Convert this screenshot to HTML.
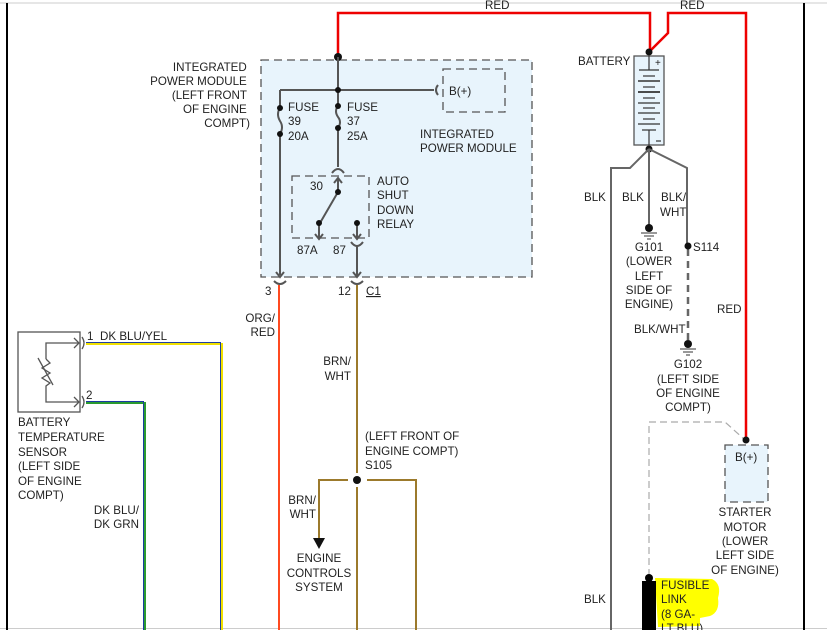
<!DOCTYPE html>
<html><head><meta charset="utf-8"><style>
html,body{margin:0;padding:0;background:#fff;}
svg{display:block;font-family:"Liberation Sans",sans-serif;font-size:11.6px;}
text{fill:#222;}
</style></head><body>
<svg width="827" height="630" viewBox="0 0 827 630" xmlns="http://www.w3.org/2000/svg">
<line x1="0" y1="3" x2="827" y2="3" stroke="#ccc" stroke-width="1"/>
<line x1="0" y1="628.5" x2="827" y2="628.5" stroke="#ccc" stroke-width="1"/>
<line x1="7" y1="3" x2="7" y2="630" stroke="#000" stroke-width="2"/>
<line x1="804" y1="3" x2="804" y2="630" stroke="#000" stroke-width="2"/>

<rect x="261" y="60" width="271" height="217" fill="#e8f4fc" stroke="#555" stroke-width="1.3" stroke-dasharray="8,5"/>
<rect x="443" y="69" width="62" height="43" fill="#e8f4fc" stroke="#555" stroke-width="1.3" stroke-dasharray="8,5"/>
<text x="449" y="95">B(+)</text>
<text x="420" y="138">INTEGRATED</text>
<text x="420" y="152">POWER MODULE</text>

<text text-anchor="end">
<tspan x="250" y="71">INTEGRATED</tspan>
<tspan x="250" y="85">POWER MODULE</tspan>
<tspan x="250" y="99">(LEFT FRONT</tspan>
<tspan x="250" y="113">OF ENGINE</tspan>
<tspan x="250" y="127">COMPT)</tspan>
</text>

<polyline points="338,57 338,13 650,13 650,52" fill="none" stroke="#e00" stroke-width="2.5"/>
<polyline points="649,52 668,33 668,13 746,13 746,440" fill="none" stroke="#e00" stroke-width="2.5"/>
<text x="485" y="9">RED</text>
<text x="680" y="9">RED</text>
<text x="717" y="313">RED</text>
<circle cx="338" cy="57" r="4" fill="#111"/>

<g stroke="#555" stroke-width="2" fill="none">
<line x1="338" y1="57" x2="338" y2="106"/>
<line x1="280" y1="90" x2="434" y2="90"/>
<path d="M438,85 q-4,5 0,10"/>
<line x1="280" y1="90" x2="280" y2="108"/>
<path d="M280,108 q-4,6 0,13 q4,6 0,13"/>
<path d="M338,106 q-4,5 0,11 q4,5 0,11"/>
<line x1="280" y1="134" x2="280" y2="275"/>
<line x1="338" y1="128" x2="338" y2="167"/>
<path d="M332,173 q6,-8 12,0"/>
<line x1="338" y1="178" x2="338" y2="192"/>
<path d="M334,183 l4,-5 l4,5"/>
<line x1="338" y1="192" x2="320" y2="223"/>
<line x1="319" y1="223" x2="319" y2="238"/>
<path d="M315,234 l4,5 l4,-5"/>
<line x1="357" y1="223" x2="357" y2="238"/>
<path d="M353,234 l4,5 l4,-5"/>
<path d="M351,242 q6,8 12,0"/>
<line x1="357" y1="246" x2="357" y2="276"/>
<path d="M353,272 l4,5 l4,-5"/>
<path d="M276,272 l4,5 l4,-5"/>
<path d="M274,281 q6,6 12,0"/>
<path d="M351,281 q6,6 12,0"/>
</g>
<rect x="292" y="176" width="77" height="62" fill="none" stroke="#555" stroke-width="1.3" stroke-dasharray="8,5"/>
<g fill="#111">
<circle cx="338" cy="90" r="3"/>
<circle cx="280" cy="108" r="3"/><circle cx="280" cy="134" r="3"/>
<circle cx="338" cy="106" r="3"/><circle cx="338" cy="128" r="3"/>
<circle cx="338" cy="192" r="3"/><circle cx="319" cy="223" r="3"/><circle cx="357" cy="223" r="3"/>
</g>
<text><tspan x="288" y="111">FUSE</tspan><tspan x="288" y="125">39</tspan><tspan x="288" y="140">20A</tspan></text>
<text><tspan x="347" y="111">FUSE</tspan><tspan x="347" y="125">37</tspan><tspan x="347" y="140">25A</tspan></text>
<text x="310" y="190">30</text>
<text><tspan x="377" y="185">AUTO</tspan><tspan x="377" y="199">SHUT</tspan><tspan x="377" y="214">DOWN</tspan><tspan x="377" y="228">RELAY</tspan></text>
<text x="297" y="254">87A</text>
<text x="333" y="254">87</text>
<text x="265" y="295">3</text>
<text x="338" y="295">12</text>
<text x="366" y="295" text-decoration="underline">C1</text>

<line x1="279" y1="285" x2="279" y2="630" stroke="#ff4a20" stroke-width="2"/>
<line x1="357" y1="285" x2="357" y2="473" stroke="#9c7a2c" stroke-width="2"/>
<line x1="357" y1="487" x2="357" y2="630" stroke="#9c7a2c" stroke-width="2"/>
<polyline points="348,480 319,480 319,538" fill="none" stroke="#9c7a2c" stroke-width="2"/>
<polygon points="313,538 325,538 319,549" fill="#111"/>
<polyline points="367,480 416,480 416,630" fill="none" stroke="#9c7a2c" stroke-width="2"/>
<circle cx="357" cy="480" r="4" fill="#111"/>
<text text-anchor="end"><tspan x="275" y="322">ORG/</tspan><tspan x="275" y="336">RED</tspan></text>
<text text-anchor="end"><tspan x="351" y="365">BRN/</tspan><tspan x="351" y="380">WHT</tspan></text>
<text><tspan x="365" y="440">(LEFT FRONT OF</tspan><tspan x="365" y="455">ENGINE COMPT)</tspan><tspan x="365" y="469">S105</tspan></text>
<text text-anchor="end"><tspan x="316" y="504">BRN/</tspan><tspan x="316" y="518">WHT</tspan></text>
<text text-anchor="middle"><tspan x="319" y="562">ENGINE</tspan><tspan x="319" y="577">CONTROLS</tspan><tspan x="319" y="591">SYSTEM</tspan></text>

<rect x="18" y="332" width="62" height="80" fill="#fff" stroke="#555" stroke-width="1.3"/>
<g stroke="#555" stroke-width="1.3" fill="none">
<polyline points="79,343 46,343 46,359"/>
<polyline points="46,359 50,363 42,368 50,373 42,378 50,383 46,386 46,402 79,402"/>
<line x1="38" y1="358" x2="53" y2="385"/>
<path d="M74,338 l5,5 l-5,5"/><path d="M74,397 l5,5 l-5,5"/>
<path d="M82,337 q4,6 0,12"/><path d="M82,396 q4,6 0,12"/>
</g>
<polyline points="86,344 222,344 222,630" fill="none" stroke="#f0e000" stroke-width="2"/>
<polyline points="86,342.5 220.5,342.5 220.5,630" fill="none" stroke="#2040a0" stroke-width="1"/>
<polyline points="86,403 145,403 145,630" fill="none" stroke="#2a9a30" stroke-width="2"/>
<polyline points="86,401.5 143.5,401.5 143.5,630" fill="none" stroke="#1a3aa0" stroke-width="1"/>
<text x="87" y="340">1</text><text x="100" y="340">DK BLU/YEL</text>
<text x="86" y="399">2</text>
<text><tspan x="18" y="426">BATTERY</tspan><tspan x="18" y="441">TEMPERATURE</tspan><tspan x="18" y="456">SENSOR</tspan><tspan x="18" y="470">(LEFT SIDE</tspan><tspan x="18" y="485">OF ENGINE</tspan><tspan x="18" y="499">COMPT)</tspan></text>
<text text-anchor="end"><tspan x="139" y="514">DK BLU/</tspan><tspan x="139" y="528">DK GRN</tspan></text>

<rect x="634" y="56" width="30" height="89" fill="#e8f4fc" stroke="#555" stroke-width="1.3"/>
<g stroke="#333" stroke-width="1.2">
<line x1="649" y1="56" x2="649" y2="70"/>
<line x1="639" y1="70" x2="659" y2="70"/>
<line x1="643" y1="76" x2="655" y2="76"/>
<line x1="638" y1="81" x2="660" y2="81" stroke-width="1.5"/>
<line x1="643" y1="87" x2="655" y2="87"/>
<line x1="638" y1="92" x2="660" y2="92" stroke-width="1.8"/>
<line x1="643" y1="98" x2="655" y2="98"/>
<line x1="638" y1="103" x2="660" y2="103"/>
<line x1="643" y1="108" x2="655" y2="108"/>
<line x1="638" y1="113" x2="660" y2="113"/>
<line x1="643" y1="119" x2="655" y2="119"/>
<line x1="638" y1="124" x2="660" y2="124"/>
<line x1="642" y1="130" x2="656" y2="130"/>
<line x1="649" y1="130" x2="649" y2="145"/>
<line x1="656" y1="141" x2="661" y2="141"/>
</g>
<text x="655" y="66" font-size="10">+</text>
<circle cx="649" cy="52" r="3.5" fill="#111"/>
<circle cx="649" cy="149" r="3.5" fill="#111"/>
<text x="578" y="65">BATTERY</text>
<g stroke="#666" stroke-width="2" fill="none">
<polyline points="649,149 630,168 611,168 611,630"/>
<line x1="649" y1="149" x2="649" y2="226"/>
<polyline points="649,149 687,168 687,245"/>
<line x1="688" y1="249" x2="688" y2="342" stroke-dasharray="7,5" stroke-width="2.5"/>
</g>
<circle cx="649" cy="228" r="4" fill="#111"/>
<g stroke="#333" stroke-width="1"><line x1="641" y1="233" x2="657" y2="233"/><line x1="644" y1="236" x2="654" y2="236"/><line x1="647" y1="239" x2="651" y2="239"/></g>
<circle cx="688" cy="246" r="3.5" fill="#111"/>
<circle cx="688" cy="344" r="4" fill="#111"/>
<g stroke="#333" stroke-width="1"><line x1="680" y1="349" x2="696" y2="349"/><line x1="683" y1="352" x2="693" y2="352"/><line x1="686" y1="355" x2="690" y2="355"/></g>
<text x="584" y="201">BLK</text><text x="622" y="201">BLK</text>
<text><tspan x="661" y="201">BLK/</tspan><tspan x="660" y="216">WHT</tspan></text>
<text text-anchor="middle"><tspan x="649" y="251">G101</tspan><tspan x="649" y="265">(LOWER</tspan><tspan x="649" y="280">LEFT</tspan><tspan x="649" y="294">SIDE OF</tspan><tspan x="649" y="308">ENGINE)</tspan></text>
<text x="693" y="251">S114</text>
<text x="634" y="333">BLK/WHT</text>
<text text-anchor="middle"><tspan x="688" y="368">G102</tspan><tspan x="688" y="383">(LEFT SIDE</tspan><tspan x="688" y="397">OF ENGINE</tspan><tspan x="688" y="411">COMPT)</tspan></text>

<polyline points="649,576 649,422 725,422 745,440" fill="none" stroke="#aaa" stroke-width="1.2" stroke-dasharray="7,4"/>
<rect x="725" y="445" width="43" height="57" fill="#e8f4fc" stroke="#555" stroke-width="1.3" stroke-dasharray="8,5"/>
<circle cx="746" cy="440" r="3.5" fill="#111"/>
<text x="735" y="461">B(+)</text>
<text text-anchor="middle"><tspan x="745" y="516">STARTER</tspan><tspan x="745" y="531">MOTOR</tspan><tspan x="745" y="545">(LOWER</tspan><tspan x="745" y="559">LEFT SIDE</tspan><tspan x="745" y="574">OF ENGINE)</tspan></text>

<path d="M655,578 L712,579 Q722,584 718,598 Q720,612 710,616 L700,618 L700,626 L658,627 Z" fill="#ffff00"/>
<rect x="642" y="581" width="14" height="49" fill="#000"/>
<circle cx="649" cy="578" r="4" fill="#000"/>
<text><tspan x="661" y="589">FUSIBLE</tspan><tspan x="661" y="603">LINK</tspan><tspan x="661" y="618">(8 GA-</tspan><tspan x="661" y="632">LT BLU)</tspan></text>
<text x="584" y="603">BLK</text>
</svg>
</body></html>
